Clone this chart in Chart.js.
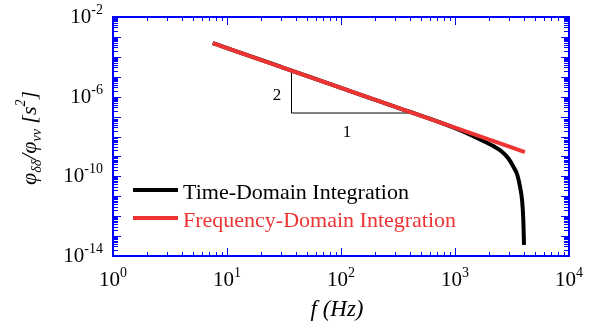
<!DOCTYPE html>
<html>
<head>
<meta charset="utf-8">
<script src="https://cdn.jsdelivr.net/npm/chart.js@4.4.1/dist/chart.umd.min.js"></script>
<style>
  html, body { margin: 0; padding: 0; background: #fff; }
  #wrap { width: 598px; height: 326px; }
</style>
</head>
<body>
<div id="wrap"><canvas id="psdChart" width="598" height="326"></canvas></div>
<script>
// values (f in Hz, PSD ratio in s^2)
const freqFD = [7.5, 10, 30, 100, 300, 1000, 2000, 3000, 4100];
const psdFD = [4.9e-4, 2.76e-4, 3.07e-5, 2.76e-6, 3.07e-7, 2.76e-8, 6.9e-9, 3.07e-9, 1.64e-9];

const freqTD = [7.5, 10, 30, 100, 300, 1000, 1448, 1771, 2167, 2567, 2933, 3246, 3522, 3718, 3873, 3974, 4030];
const psdTD = [4.9e-4, 2.76e-4, 3.07e-5, 2.76e-6, 3.07e-7, 2.65e-8, 1.05e-8, 6.0e-9, 3.3e-9, 1.78e-9, 8.1e-10, 3.1e-10, 1.17e-10, 3.0e-11, 6.5e-12, 6.5e-13, 3.6e-14];

// slope triangle (2 : 1)
const slopeF = [36.8, 36.8, 427];
const slopeV = [2.04e-5, 1.51e-7, 1.51e-7];
const slopeLabels = [
  { text: '2', f: 27.5, v: 1.15e-6 },
  { text: '1', f: 113, v: 1.55e-8 }
];

// tick labels (powers of ten)
const xTickExps = [0, 1, 2, 3, 4];
const yTickExps = [-2, -6, -10, -14];

const seriesNames = ['Time-Domain Integration', 'Frequency-Domain Integration'];
const seriesColors = ['#000000', '#ee3333'];

const toPoints = (xs, ys) => xs.map((v, i) => ({ x: v, y: ys[i] }));

const SERIF = '"Liberation Serif", "Times New Roman", serif';
const BLUE = '#0000ff';

// draws a run of [text, size, dy] pieces starting at x0
function drawRuns(ctx, runs, x0, y0, italic, align) {
  let total = 0;
  runs.forEach(r => {
    ctx.font = (italic ? 'italic ' : '') + r[1] + 'px ' + SERIF;
    r.w = ctx.measureText(r[0]).width;
    total += r.w;
  });
  let x = x0;
  if (align === 'center') x = x0 - total / 2;
  if (align === 'right') x = x0 - total;
  runs.forEach(r => {
    ctx.font = (italic ? 'italic ' : '') + r[1] + 'px ' + SERIF;
    ctx.fillText(r[0], x, y0 + r[2]);
    x += r.w;
  });
}

const frameAndText = {
  id: 'frameAndText',
  afterDatasetsDraw(chart) {
    const { ctx, chartArea: a, scales: { x, y } } = chart;
    ctx.save();
    ctx.textBaseline = 'alphabetic';
    ctx.textAlign = 'left';

    // ticks pointing inward on all four sides
    ctx.strokeStyle = BLUE;
    ctx.lineWidth = 1;
    ctx.beginPath();
    for (let e = 0; e <= 4; e++) {
      for (let m = 1; m <= 9; m++) {
        if (e === 4 && m > 1) break;
        const px = Math.round(x.getPixelForValue(m * Math.pow(10, e))) + 0.5;
        const len = m === 1 ? 8 : 4;
        ctx.moveTo(px, a.bottom); ctx.lineTo(px, a.bottom - len);
        ctx.moveTo(px, a.top); ctx.lineTo(px, a.top + len);
      }
    }
    for (let e = -14; e <= -2; e++) {
      for (let m = 1; m <= 9; m++) {
        if (e === -2 && m > 1) break;
        const py = Math.round(y.getPixelForValue(m * Math.pow(10, e))) + 0.5;
        const len = m === 1 ? 8 : 5;
        ctx.moveTo(a.left, py); ctx.lineTo(a.left + len, py);
        ctx.moveTo(a.right, py); ctx.lineTo(a.right - len, py);
      }
    }
    ctx.stroke();

    // frame
    ctx.lineWidth = 2;
    ctx.strokeRect(a.left, a.top, a.right - a.left, a.bottom - a.top);

    // tick labels
    ctx.fillStyle = '#000';
    xTickExps.forEach(e => {
      const px = x.getPixelForValue(Math.pow(10, e));
      drawRuns(ctx, [['10', 21, 0], [String(e), 14, -9]], px, a.bottom + 30, false, 'center');
    });
    yTickExps.forEach(e => {
      const py = y.getPixelForValue(Math.pow(10, e));
      drawRuns(ctx, [['10', 21, 0], ['-' + Math.abs(e), 14, -9]], a.left - 10, py + 6, false, 'right');
    });

    // axis titles
    drawRuns(ctx, [['f', 23, 0], [' (Hz)', 23, 0]], 337, 316, true, 'center');
    ctx.save();
    ctx.translate(36, 138);
    ctx.rotate(-Math.PI / 2);
    drawRuns(ctx, [['\u03c6', 22, 0], ['\u03b4\u03b4', 14, 5], ['/', 22, 0], ['\u03c6', 22, 0],
      ['vv', 14, 5], [' [', 22, 0], ['s', 22, 0], ['2', 14, -11], [']', 22, 0]], 0, 0, true, 'center');
    ctx.restore();

    // slope labels
    ctx.font = '17px ' + SERIF;
    ctx.textAlign = 'center';
    ctx.textBaseline = 'middle';
    slopeLabels.forEach(l => {
      ctx.fillText(l.text, x.getPixelForValue(l.f), y.getPixelForValue(l.v));
    });

    // legend inside the plot
    ctx.textAlign = 'left';
    ctx.textBaseline = 'alphabetic';
    ctx.font = '22px ' + SERIF;
    seriesNames.forEach((name, i) => {
      const ly = 190 + i * 28;
      ctx.strokeStyle = seriesColors[i];
      ctx.lineWidth = 4;
      ctx.beginPath();
      ctx.moveTo(133, ly); ctx.lineTo(178, ly);
      ctx.stroke();
      ctx.fillStyle = seriesColors[i];
      ctx.fillText(name, 183, ly + 9);
    });
    ctx.restore();
  }
};

new Chart(document.getElementById('psdChart').getContext('2d'), {
  type: 'scatter',
  data: {
    datasets: [
      {
        label: seriesNames[1],
        data: toPoints(freqFD, psdFD),
        showLine: true,
        borderColor: seriesColors[1],
        borderWidth: 4,
        pointRadius: 0,
        order: 0
      },
      {
        label: seriesNames[0],
        data: toPoints(freqTD, psdTD),
        showLine: true,
        borderColor: seriesColors[0],
        borderWidth: 4,
        pointRadius: 0,
        cubicInterpolationMode: 'monotone',
        order: 1
      },
      {
        label: 'slope',
        data: toPoints(slopeF, slopeV),
        showLine: true,
        borderColor: '#000',
        borderWidth: 1,
        pointRadius: 0,
        order: 2
      }
    ]
  },
  options: {
    responsive: false,
    animation: false,
    layout: { padding: { left: 113, top: 17, right: 29, bottom: 70 } },
    plugins: { legend: { display: false }, tooltip: { enabled: false } },
    scales: {
      x: { type: 'logarithmic', min: 1, max: 10000, display: false },
      y: { type: 'logarithmic', min: 1e-14, max: 1e-2, display: false }
    }
  },
  plugins: [frameAndText]
});
</script>
</body>
</html>
